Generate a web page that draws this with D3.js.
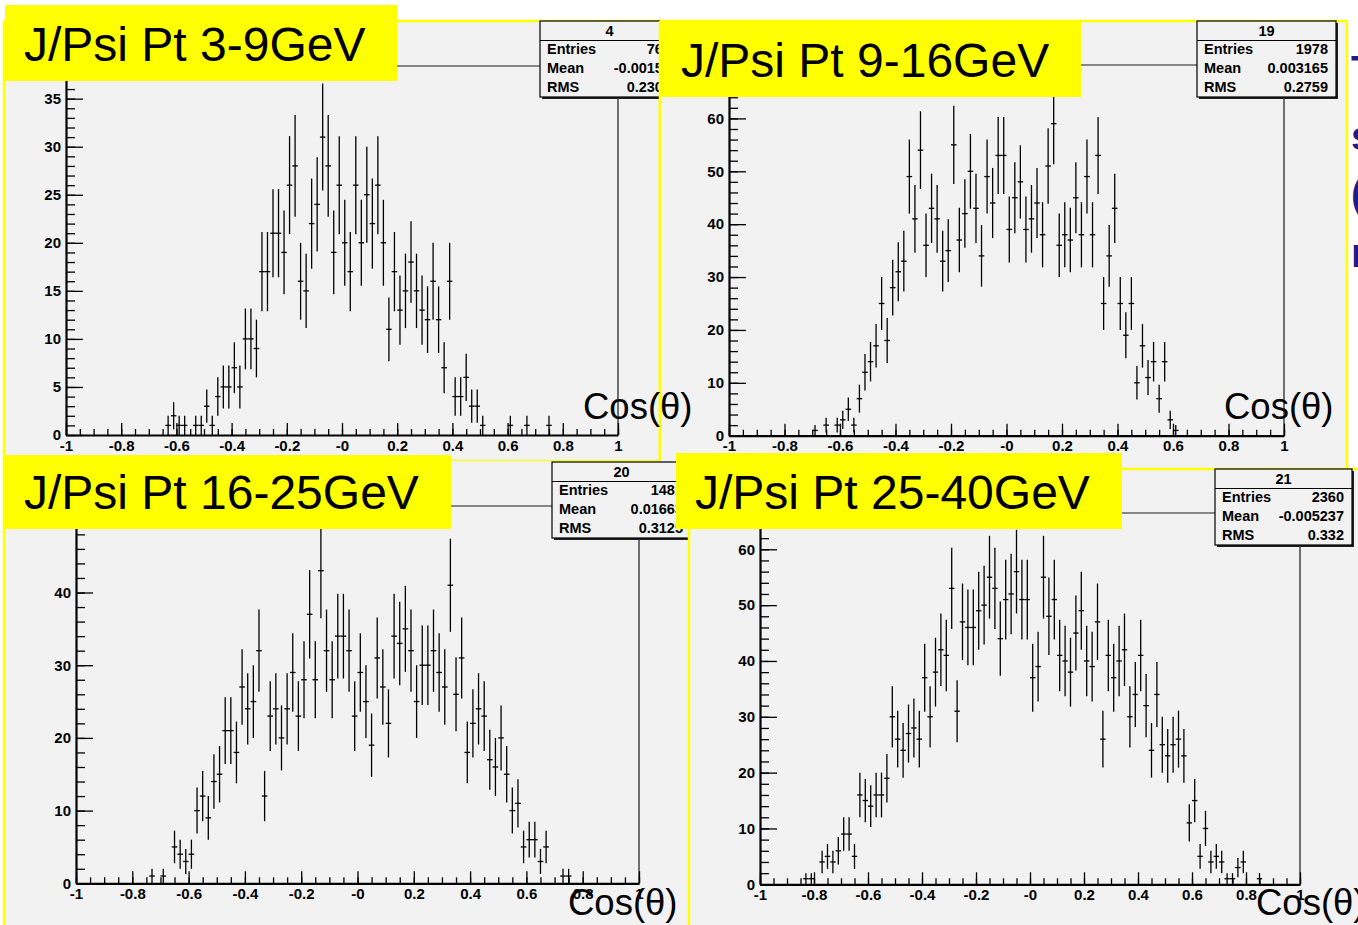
<!DOCTYPE html>
<html><head><meta charset="utf-8">
<script src="https://cdn.jsdelivr.net/npm/d3@7"></script>
<style>
html,body{margin:0;padding:0;background:#fff;}
svg{display:block;}
</style></head>
<body><svg id="c" width="1358" height="925"></svg>
<script>
// ---------- DATA ----------
const titles = ["J/Psi Pt 3-9GeV", "J/Psi Pt 9-16GeV", "J/Psi Pt 16-25GeV", "J/Psi Pt 25-40GeV"];
const xAxisTitle = "Cos(\u03B8)";
const xDomain = [-1, 1];
const binWidth = 0.02;

// 100 bins of cos(theta), -1 .. 1
const counts1 = [
  0,0,0,0,0,0,0,0,0,0,
  0,0,0,0,0,0,0,0,1,2,
  1,1,0,1,1,3,1,4,5,5,
  7,5,10,10,9,17,17,21,21,19,
  26,28,16,15,22,24,31,28,19,26,
  20,17,26,20,25,22,26,20,11,17,
  13,15,18,15,13,12,16,12,7,16,
  4,4,6,3,3,1,0,0,0,0,
  1,0,0,1,0,0,0,1,0,0,
  0,0,0,0,0,0,0,0,0,0
];
const counts2 = [
  0,0,0,0,0,0,0,0,0,0,
  0,0,0,0,0,1,0,2,0,2,
  3,5,2,7,12,14,17,25,18,28,
  31,33,49,41,54,36,43,41,33,35,
  55,37,42,50,43,34,49,44,53,53,
  39,45,48,39,41,44,38,51,59,36,
  38,37,45,38,49,38,53,25,34,43,
  25,19,25,10,17,11,14,7,14,3,
  1,0,0,0,0,0,0,0,0,0,
  0,0,0,0,0,0,0,0,0,0
];
const counts3 = [
  0,0,0,0,0,0,0,0,0,0,
  0,0,0,1,0,1,0,5,4,3,
  4,10,12,9,14,15,21,21,18,27,
  24,25,32,12,23,24,20,24,29,23,
  28,37,28,43,32,28,34,34,32,23,
  29,25,19,31,27,22,34,33,35,32,
  25,30,30,32,29,27,41,26,31,18,
  22,24,23,17,16,20,15,10,11,5,
  6,6,3,5,0,0,1,1,0,0,
  0,0,0,0,0,0,0,0,0,0
];
const counts4 = [
  0,0,0,0,0,0,0,0,1,1,
  0,4,5,4,6,9,9,5,16,15,
  14,16,16,19,30,26,24,27,28,26,
  37,30,38,42,41,53,31,47,46,46,
  49,50,55,53,44,51,52,56,51,51,
  37,39,55,48,51,41,40,38,45,49,
  40,39,47,26,41,37,40,42,30,34,
  41,32,24,34,25,23,25,26,23,11,
  15,5,10,4,5,4,1,1,3,4,
  0,0,1,0,0,0,0,0,0,0
];

const statIds     = ["4", "19", "20", "21"];
const statEntries = ["761", "1978", "1481", "2360"];
const statMeans   = ["-0.00154", "0.003165", "0.01663", "-0.005237"];
const statRms     = ["0.2302", "0.2759", "0.3125", "0.332"];
const statNames   = ["Entries", "Mean", "RMS"];

const yMaxes = [38.4, 70.1, 51.9, 66.5];

const xTickValues = [-1, -0.8, -0.6, -0.4, -0.2, 0, 0.2, 0.4, 0.6, 0.8, 1];
const xTickLabels = ["-1", "-0.8", "-0.6", "-0.4", "-0.2", "-0", "0.2", "0.4", "0.6", "0.8", "1"];
const yTickValues1 = [0, 5, 10, 15, 20, 25, 30, 35];
const yTickValues2 = [0, 10, 20, 30, 40, 50, 60];
const yTickValues3 = [0, 10, 20, 30, 40, 50];
const yTickValues4 = [0, 10, 20, 30, 40, 50, 60];
const yMinorSteps = [1, 2, 2, 2];

const sideLetters = ["T", "s", "(", "r"];

// ---------- LAYOUT ----------
const layout = [
  {pad:[4,21,660,461], borders:["top","left","right","bottom"], frame:{x0:66,x1:618,yb:435,yt:66},
   label:{box:[5,5,397,81], tx:24, ty:61}, stats:{x:540,y:21,w:139}, cos:{x:583,y:419}},
  {pad:[660,21,1347,470], borders:["top","left","right"], frame:{x0:729,x1:1284,yb:435.7,yt:65},
   label:{box:[660,20,1081,97], tx:681, ty:77}, stats:{x:1197,y:21,w:139}, cos:{x:1224,y:419}},
  {pad:[4,461,690,926], borders:["left","right"], frame:{x0:76,x1:639,yb:883.3,yt:506},
   label:{box:[5,455,451,529], tx:24, ty:509}, stats:{x:552,y:462,w:139}, cos:{x:568,y:915}},
  {pad:[689,469,1362,926], borders:["top","left"], frame:{x0:760,x1:1300,yb:884.3,yt:513},
   label:{box:[676,453,1122,529], tx:695, ty:509}, stats:{x:1215,y:469,w:137}, cos:{x:1256,y:915}}
];

const allCounts = [counts1, counts2, counts3, counts4];
const allYTicks = [yTickValues1, yTickValues2, yTickValues3, yTickValues4];

const PAD_BG = "#f2f2f2";
const YELLOW = "#ffff00";
const TICK_FONT = "'Liberation Sans', Arial, Helvetica, sans-serif";

const svg = d3.select("#c");
svg.append("rect").attr("width",1358).attr("height",925).attr("fill","#fff");

function drawPanel(p, k) {
  const L = layout[k];
  const g = svg.append("g");
  const [px0, py0, px1, py1] = L.pad;
  g.append("rect").attr("x",px0).attr("y",py0).attr("width",px1-px0).attr("height",py1-py0).attr("fill",PAD_BG);
  const bw = 2.5;
  const sides = {
    top:[px0,py0,px1,py0], bottom:[px0,py1,px1,py1], left:[px0,py0,px0,py1], right:[px1,py0,px1,py1]
  };
  L.borders.forEach(s => {
    const c = sides[s];
    g.append("line").attr("x1",c[0]).attr("y1",c[1]).attr("x2",c[2]).attr("y2",c[3])
      .attr("stroke",YELLOW).attr("stroke-width",bw);
  });

  const F = L.frame;
  const ymax = yMaxes[k];
  const x = d3.scaleLinear().domain(xDomain).range([F.x0, F.x1]);
  const y = d3.scaleLinear().domain([0, ymax]).range([F.yb, F.yt]);

  // frame top and right
  g.append("path").attr("d", `M${F.x0},${F.yt}H${F.x1}V${F.yb}`).attr("fill","none")
    .attr("stroke","#1a1a1a").attr("stroke-width",1.2);

  // minor ticks
  const xMinor = d3.range(0, 41).map(i => -1 + i * 0.05);
  const gxm = g.append("g").attr("transform",`translate(0,${F.yb})`)
    .call(d3.axisBottom(x).tickValues(xMinor).tickSizeInner(-6).tickSizeOuter(0).tickFormat(""));
  gxm.select(".domain").remove();
  const yMinor = d3.range(0, ymax, yMinorSteps[k]);
  const gym = g.append("g").attr("transform",`translate(${F.x0},0)`)
    .call(d3.axisLeft(y).tickValues(yMinor).tickSizeInner(-9).tickSizeOuter(0).tickFormat(""));
  gym.select(".domain").remove();

  // major axes
  const gx = g.append("g").attr("transform",`translate(0,${F.yb})`)
    .call(d3.axisBottom(x).tickValues(xTickValues).tickSizeInner(-12).tickSizeOuter(0).tickPadding(5)
      .tickFormat((d,i) => xTickLabels[i]));
  const yt = allYTicks[k];
  const gy = g.append("g").attr("transform",`translate(${F.x0},0)`)
    .call(d3.axisLeft(y).tickValues(yt).tickSizeInner(-17).tickSizeOuter(0).tickPadding(5)
      .tickFormat(d => String(d)));
  [gx, gy].forEach(a => {
    a.select(".domain").attr("stroke","#000").attr("stroke-width",2.2);
    a.selectAll("text").attr("font-family",TICK_FONT).attr("font-weight","bold")
      .attr("font-size",15).attr("fill","#000");
  });
  [gx, gy, gxm, gym].forEach(a => a.selectAll(".tick line").attr("stroke","#000").attr("stroke-width",1.3));

  // histogram with error bars
  const bins = allCounts[k].map((c, i) => ({i, c})).filter(d => d.c > 0);
  const hg = g.append("g").attr("stroke","#000").attr("stroke-width",1.3);
  bins.forEach(d => {
    const lo = xDomain[0] + d.i * binWidth, hi = lo + binWidth, mid = lo + binWidth / 2;
    const e = Math.sqrt(d.c);
    hg.append("line").attr("x1",x(mid)).attr("x2",x(mid))
      .attr("y1",y(Math.max(0, d.c - e))).attr("y2",y(Math.min(ymax, d.c + e)));
    hg.append("line").attr("x1",x(lo)).attr("x2",x(hi)).attr("y1",y(d.c)).attr("y2",y(d.c));
  });

  // stats box
  const S = L.stats, sh = 76;
  g.append("rect").attr("x",S.x+2).attr("y",S.y+2).attr("width",S.w).attr("height",sh).attr("fill","#222");
  g.append("rect").attr("x",S.x).attr("y",S.y).attr("width",S.w).attr("height",sh)
    .attr("fill",PAD_BG).attr("stroke","#000").attr("stroke-width",1.2);
  g.append("line").attr("x1",S.x).attr("x2",S.x+S.w).attr("y1",S.y+19.5).attr("y2",S.y+19.5)
    .attr("stroke","#000").attr("stroke-width",1.2);
  const sf = {family:TICK_FONT, size:14.5};
  g.append("text").attr("x",S.x+S.w/2).attr("y",S.y+15).attr("text-anchor","middle")
    .attr("font-family",sf.family).attr("font-weight","bold").attr("font-size",sf.size).text(statIds[k]);
  const vals = [statEntries[k], statMeans[k], statRms[k]];
  statNames.forEach((n, r) => {
    const by = S.y + 33 + r * 19;
    g.append("text").attr("x",S.x+7).attr("y",by).attr("font-family",sf.family).attr("font-weight","bold")
      .attr("font-size",sf.size).text(n);
    g.append("text").attr("x",S.x+S.w-8).attr("y",by).attr("text-anchor","end").attr("font-family",sf.family)
      .attr("font-weight","bold").attr("font-size",sf.size).text(vals[r]);
  });
}

[0,1,2,3].forEach(k => drawPanel(null, k));

// title labels (yellow boxes)
layout.forEach((L, k) => {
  const [a,b,c,d] = L.label.box;
  svg.append("rect").attr("x",a).attr("y",b).attr("width",c-a).attr("height",d-b).attr("fill",YELLOW);
  svg.append("text").attr("x",L.label.tx).attr("y",L.label.ty)
    .attr("font-family","'Liberation Sans', Arial, Helvetica, sans-serif").attr("font-size",48)
    .attr("fill","#000").text(titles[k]);
});

// axis titles
layout.forEach(L => {
  svg.append("text").attr("x",L.cos.x).attr("y",L.cos.y)
    .attr("font-family","'Liberation Sans', Arial, Helvetica, sans-serif").attr("font-size",36.5)
    .attr("fill","#000").text(xAxisTitle);
});

// slide text fragments at right edge
const sideY = [84, 150, 208, 267];
sideLetters.forEach((t, i) => {
  svg.append("text").attr("x",1351).attr("y",sideY[i])
    .attr("font-family","'Liberation Sans', Arial, sans-serif").attr("font-weight","bold")
    .attr("font-size",40).attr("fill","#1c1c8c").text(t);
});
</script>
</body></html>
